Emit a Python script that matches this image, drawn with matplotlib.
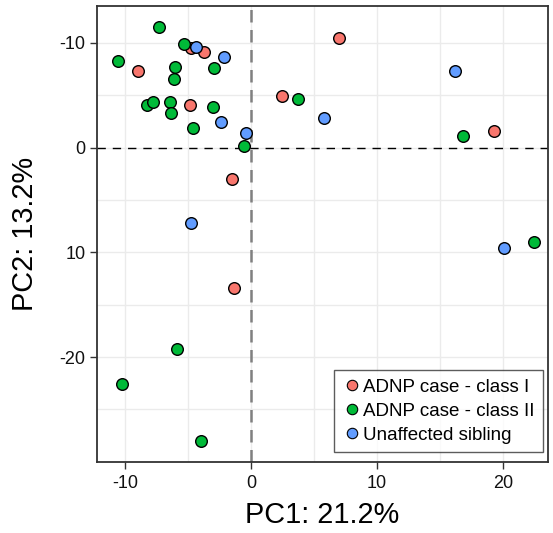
import matplotlib
matplotlib.use("Agg")
import matplotlib.pyplot as plt
from matplotlib.lines import Line2D

plt.rcParams['font.family'] = ['Liberation Sans', 'DejaVu Sans']

groups = ["ADNP case - class I", "ADNP case - class II", "Unaffected sibling"]
colors = ["#F8766D", "#00BA38", "#619CFF"]

class1_x = [-4.77, -3.71, -9.0, -4.85, -1.48, 7.02, 2.44, 19.32, -1.33]
class1_y = [9.49, 9.11, 7.33, 4.11, -3.02, 10.51, 4.91, 1.59, -13.37]

class2_x = [-7.31, -5.30, -10.6, -6.04, -2.92, -6.12, -8.29, -7.76, -6.41, -6.38,
            -3.04, -4.64, -0.56, 3.71, 16.83, 22.52, -5.86, -10.23, -3.97]
class2_y = [11.56, 9.90, 8.25, 7.68, 7.58, 6.53, 4.05, 4.36, 4.36, 3.29,
            3.86, 1.91, 0.13, 4.68, 1.12, -9.01, -19.20, -22.54, -27.98]

sib_x = [-4.40, -2.12, -2.38, -0.42, -4.79, 16.24, 5.83, 20.11]
sib_y = [9.62, 8.69, 2.43, 1.40, -7.22, 7.33, 2.81, -9.55]

xticks = [-10, 0, 10, 20]
xticklabels = ["-10", "0", "10", "20"]
yticks = [10, 0, -10, -20]
yticklabels = ["-10", "0", "10", "-20"]

fig = plt.figure(figsize=(5.53, 5.33), dpi=100)
ax = fig.add_axes([0.1749, 0.1332, 0.991 - 0.1749, 0.9893 - 0.1332])

ax.set_xlim(-12.27, 23.6)
ax.set_ylim(-30.02, 13.56)

ax.set_xticks(xticks)
ax.set_xticklabels(xticklabels)
ax.set_yticks(yticks)
ax.set_yticklabels(yticklabels)
ax.set_xticks([-5, 5, 15], minor=True)
ax.set_yticks([5, -5, -15, -25], minor=True)
ax.tick_params(which='minor', length=0)
ax.tick_params(which='major', length=5, width=1, color='#333333', labelsize=13,
               labelcolor='#111111')
ax.tick_params(axis='x', pad=4.5)
ax.tick_params(axis='y', pad=3)
ax.grid(which='major', color='#ebebeb', lw=1.0)
ax.grid(which='minor', color='#ebebeb', lw=1.0)
ax.set_axisbelow(True)
for s in ax.spines.values():
    s.set_color('#333333')
    s.set_linewidth(1.3)

ax.axhline(0, color='black', lw=1.0, ls=(0, (6, 5)), zorder=1.5)
ax.axvline(0, color='#808080', lw=1.8, ls=(0, (5, 3)), zorder=1.5)

data = [(class1_x, class1_y), (class2_x, class2_y), (sib_x, sib_y)]
for (xs, ys), c, g in zip(data, colors, groups):
    ax.scatter(xs, ys, s=70, c=c, edgecolors='black', linewidths=1.0, zorder=3, label=g)

ax.set_xlabel("PC1: 21.2%", fontsize=20.8, labelpad=6)
ax.set_ylabel("PC2: 13.2%", fontsize=20.8, labelpad=15)

handles = [Line2D([], [], marker='o', ls='', markersize=7.5, markerfacecolor=c,
                  markeredgecolor='black', markeredgewidth=0.8) for c in colors]
leg = ax.legend(handles, groups, loc='lower right', bbox_to_anchor=(0.989, 0.022),
                fontsize=13.5, frameon=True, fancybox=False, edgecolor='#333333',
                handlelength=1.0, handletextpad=0.1, borderpad=0.45, labelspacing=0.36,
                borderaxespad=0)
leg.get_frame().set_linewidth(1.0)

fig.savefig("out.png", dpi=100)
